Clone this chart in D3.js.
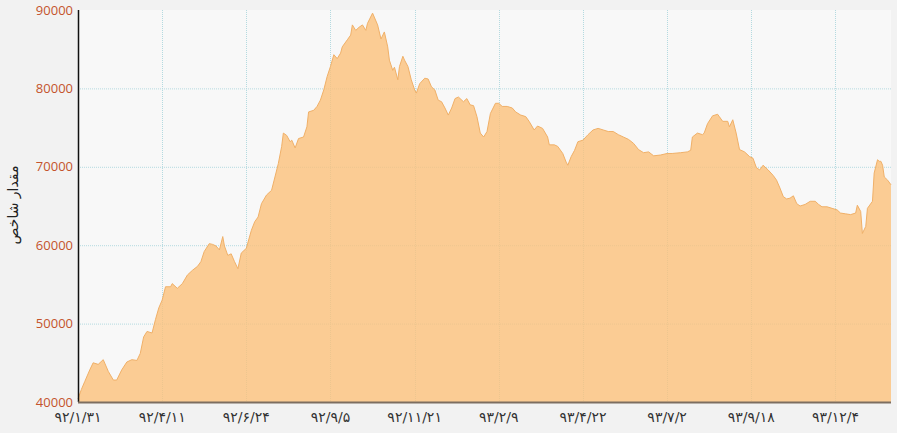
<!DOCTYPE html>
<html>
<head>
<meta charset="utf-8">
<script src="https://cdn.jsdelivr.net/npm/d3@7"></script>
<style>
  body { margin: 0; background: #f2f2f2; }
  svg { display: block; font-family: "Open Sans", "DejaVu Sans", sans-serif; }
</style>
</head>
<body>
<div class="canvas"></div>
<script>
// trading-day index (x) and index value (y)
const days = [0, 2, 4, 7, 9, 12, 15, 18, 21, 23, 26, 29, 32, 35, 37, 39, 41, 44, 46, 48,
  50, 52, 55, 56, 59, 62, 65, 68, 71, 73, 75, 78, 80, 82, 84, 86, 87, 89, 91, 93,
  95, 97, 100, 103, 105, 107, 109, 112, 115, 117, 119, 121, 122, 124, 126, 127, 129, 131, 134, 136,
  137, 140, 142, 144, 146, 148, 150, 152, 154, 156, 157, 160, 162, 163, 165, 167, 169, 171, 172, 175,
  176, 178, 180, 182, 184, 185, 187, 188, 190, 191, 193, 194, 196, 198, 200, 201, 203, 206, 208, 210,
  212, 214, 216, 218, 220, 222, 224, 226, 229, 231, 233, 235, 237, 239, 241, 243, 245, 248, 250, 252,
  255, 258, 260, 263, 266, 268, 271, 273, 276, 279, 280, 283, 285, 288, 290, 291, 293, 295, 297, 300,
  303, 306, 309, 312, 315, 318, 321, 324, 327, 330, 333, 336, 339, 342, 346, 350, 353, 358, 362, 364,
  365, 368, 371, 372, 374, 377, 380, 381, 383, 386, 387, 389, 391, 393, 396, 399, 401, 403, 405, 407,
  410, 413, 415, 417, 419, 421, 423, 425, 427, 429, 432, 435, 438, 440, 442, 445, 448, 451, 453, 456,
  459, 462, 463, 465, 466, 468, 469, 472, 473, 475, 476, 477, 478, 479, 481, 483];

const values = [40400, 41600, 42600, 44100, 45000, 44800, 45400, 43900, 42800, 42800, 44100, 45100, 45400, 45300, 46200, 48300, 49000, 48800, 50500, 52000,
  53000, 54700, 54700, 55100, 54500, 55100, 56200, 56800, 57300, 57900, 59200, 60200, 60100, 59900, 59400, 61100, 59900, 58700, 58900, 57900,
  57000, 59000, 59600, 61900, 63000, 63600, 65300, 66400, 67000, 68700, 70400, 72600, 74300, 74000, 73200, 73400, 72400, 73600, 73800, 75100,
  77000, 77200, 77700, 78500, 79800, 81500, 82800, 84300, 83800, 84500, 85300, 86200, 86800, 88100, 87400, 87800, 88100, 87400, 88300, 89600,
  89100, 88100, 86300, 87200, 85300, 83600, 82300, 82700, 81100, 82800, 84100, 83600, 82800, 81100, 79800, 79400, 80600, 81300, 81200, 80200,
  79800, 78500, 78300, 77500, 76600, 77500, 78700, 78900, 78300, 78700, 77900, 77800, 76400, 74300, 73800, 74500, 76800, 78100, 78100, 77700,
  77700, 77500, 77000, 76600, 76400, 75800, 74700, 75200, 74900, 73800, 72800, 72800, 72600, 71700, 70600, 70200, 71300, 72100, 73200, 73400,
  74100, 74700, 74900, 74700, 74500, 74500, 74100, 73800, 73500, 73000, 72200, 71800, 71900, 71400, 71500, 71700, 71700, 71800, 71900, 72100,
  73800, 74300, 74100, 74300, 75500, 76500, 76700, 76400, 75800, 75800, 75100, 76000, 74300, 72200, 71900, 71300, 71100, 69900, 69600, 70200,
  69600, 68900, 68300, 67300, 66200, 65900, 66000, 66300, 65300, 65000, 65200, 65600, 65600, 65200, 64900, 64900, 64700, 64500, 64100, 64000,
  63900, 64100, 65100, 64300, 61500, 62400, 64700, 65600, 69200, 70900, 70700, 70700, 70200, 68700, 68300, 67700];

const tickDays = [0, 50, 100, 150, 200, 250, 300, 350, 400, 450];
const tickLabels = ["۹۲/۱/۳۱", "۹۲/۴/۱۱", "۹۲/۶/۲۴", "۹۲/۹/۵", "۹۲/۱۱/۲۱",
  "۹۳/۲/۹", "۹۳/۴/۲۲", "۹۳/۷/۲", "۹۳/۹/۱۸", "۹۳/۱۲/۴"];
const yTicks = [40000, 50000, 60000, 70000, 80000, 90000];
const yTitle = "مقدار شاخص";

const dims = { width: 897, height: 433 };
const margin = { top: 10, right: 6, bottom: 31, left: 78 };
const inner = {
  w: dims.width - margin.left - margin.right,
  h: dims.height - margin.top - margin.bottom
};

const data = days.map((d, i) => ({ day: d, value: values[i] }));

const svg = d3
  .select(".canvas")
  .append("svg")
  .attr("width", dims.width)
  .attr("height", dims.height);

svg.append("rect")
  .attr("width", dims.width)
  .attr("height", dims.height)
  .attr("fill", "#f2f2f2");

const graph = svg
  .append("g")
  .attr("transform", `translate(${margin.left}, ${margin.top})`);

const x = d3.scaleLinear().domain([0, 483]).range([0, inner.w]);
const y = d3.scaleLinear().domain([40000, 90000]).range([inner.h, 0]);

// plot background
graph.append("rect")
  .attr("width", inner.w)
  .attr("height", inner.h)
  .attr("fill", "#f8f8f8");

// grid lines
graph.append("g")
  .selectAll("line")
  .data(yTicks.slice(1, -1))
  .join("line")
  .attr("x1", 0)
  .attr("x2", inner.w)
  .attr("y1", (d) => y(d) + 0.5)
  .attr("y2", (d) => y(d) + 0.5)
  .attr("stroke", "#b4dae0")
  .attr("stroke-dasharray", "1,1");

graph.append("g")
  .selectAll("line")
  .data(tickDays.slice(1))
  .join("line")
  .attr("x1", (d) => Math.round(x(d)) + 0.5)
  .attr("x2", (d) => Math.round(x(d)) + 0.5)
  .attr("y1", 0)
  .attr("y2", inner.h)
  .attr("stroke", "#b4dae0")
  .attr("stroke-dasharray", "1,1");

// area
const area = d3.area()
  .x((d) => x(d.day))
  .y0(inner.h)
  .y1((d) => y(d.value));

const line = d3.line()
  .x((d) => x(d.day))
  .y((d) => y(d.value));

graph.append("path")
  .datum(data)
  .attr("d", area)
  .attr("fill", "rgb(251,193,123)")
  .attr("fill-opacity", 0.8);

graph.append("path")
  .datum(data)
  .attr("d", line)
  .attr("fill", "none")
  .attr("stroke", "#f0b068")
  .attr("stroke-width", 1);

// axes
graph.append("line")
  .attr("x1", 0.5).attr("x2", 0.5)
  .attr("y1", 0).attr("y2", inner.h)
  .attr("stroke", "#111")
  .attr("stroke-width", 1.5);

graph.append("line")
  .attr("x1", 0).attr("x2", inner.w)
  .attr("y1", inner.h + 0.5).attr("y2", inner.h + 0.5)
  .attr("stroke", "#7d6e60")
  .attr("stroke-width", 2);

// y tick labels
graph.append("g")
  .selectAll("text")
  .data(yTicks)
  .join("text")
  .attr("x", -5)
  .attr("y", (d) => y(d))
  .attr("dy", "0.35em")
  .attr("text-anchor", "end")
  .attr("fill", "#c4542c")
  .style("font-size", "13px")
  .text((d) => d);

// x tick labels
graph.append("g")
  .selectAll("text")
  .data(tickDays)
  .join("text")
  .attr("x", (d) => x(d))
  .attr("y", inner.h + 15)
  .attr("dy", "0.35em")
  .attr("text-anchor", "middle")
  .attr("fill", "#333")
  .style("font-family", "'DejaVu Sans', sans-serif")
  .style("font-size", "14px")
  .text((d, i) => tickLabels[i]);

// y axis title
svg.append("text")
  .attr("transform", `translate(13, 205) rotate(-90)`)
  .attr("text-anchor", "middle")
  .attr("dy", "0.35em")
  .attr("fill", "#222")
  .style("font-family", "'DejaVu Sans', sans-serif")
  .style("font-size", "14px")
  .text(yTitle);
</script>
</body>
</html>
